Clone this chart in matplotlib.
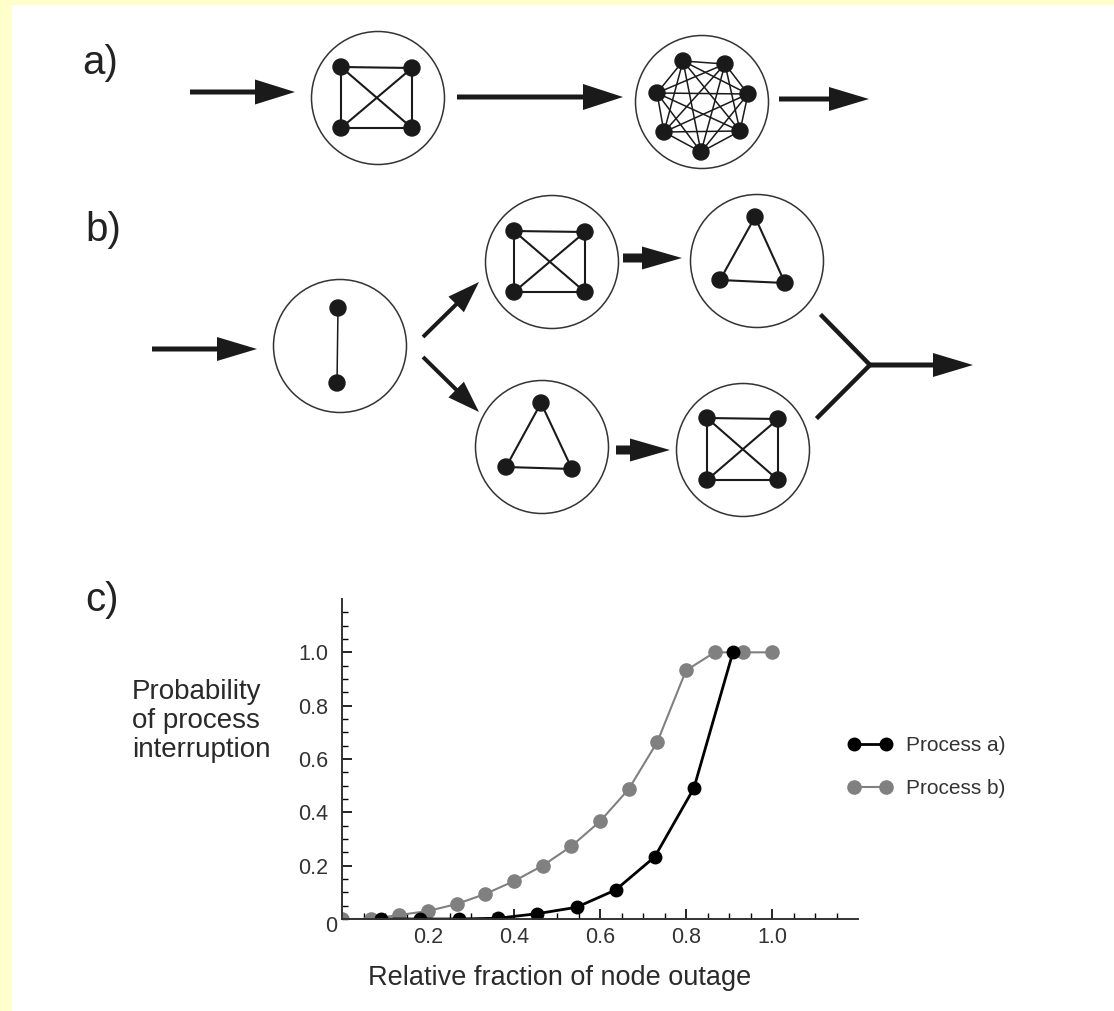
import matplotlib.pyplot as plt
import numpy as np
from matplotlib.patches import Circle, Rectangle, FancyArrow

plt.rcParams['font.family'] = ['Liberation Sans', 'DejaVu Sans']

# data for panel c)
frac_a = [1/11, 2/11, 3/11, 4/11, 5/11, 6/11, 7/11, 8/11, 9/11, 10/11]
prob_a = [0.0, 0.0, 0.0, 0.003, 0.02, 0.044, 0.109, 0.233, 0.49, 1.0]
frac_b = [0, 1/15, 2/15, 3/15, 4/15, 5/15, 6/15, 7/15, 8/15, 9/15, 10/15,
          11/15, 12/15, 13/15, 14/15, 1.0]
prob_b = [0.0, 0.0, 0.015, 0.03, 0.056, 0.094, 0.142, 0.20, 0.273, 0.366,
          0.487, 0.664, 0.932, 1.0, 1.0, 1.0]
ticks = [0.2, 0.4, 0.6, 0.8, 1.0]
tick_labels = ['0.2', '0.4', '0.6', '0.8', '1.0']
legend_labels = ['Process a)', 'Process b)']

W, H = 1114, 1011
fig = plt.figure(figsize=(W/100, H/100), dpi=100, facecolor='#FFFFCC')

# diagram layer, in pixel coordinates
d = fig.add_axes([0, 0, 1, 1], zorder=0)
d.set_xlim(0, W)
d.set_ylim(H, 0)
d.axis('off')
d.add_patch(Rectangle((12, 5), W, H, facecolor='white', edgecolor='none'))

R = 66.5
def graph(cx, cy, nodes, edge_lw=1.5):
    d.add_patch(Circle((cx, cy), R, facecolor='none', edgecolor='#333333', lw=1.1))
    for i in range(len(nodes)):
        for j in range(i + 1, len(nodes)):
            d.plot([nodes[i][0], nodes[j][0]], [nodes[i][1], nodes[j][1]],
                   color='#1a1a1a', lw=edge_lw, solid_capstyle='round')
    for (x, y) in nodes:
        d.add_patch(Circle((x, y), 8, color='#1a1a1a', zorder=3))

def arrow(x0, y0, x1, y1, w=5, hw=25, hl=40):
    d.add_patch(FancyArrow(x0, y0, x1 - x0, y1 - y0, width=w, head_width=hw,
                           head_length=hl, length_includes_head=True,
                           color='#1a1a1a', lw=0))

# a)
d.text(82, 63, 'a)', fontsize=29, va='center', ha='left', color='#222222')
arrow(190, 92, 295, 92)
graph(378, 98, [(341, 67), (412, 68), (341, 128), (412, 128)])
arrow(457, 97, 623, 97, hw=26)
graph(702, 102, [(683, 61), (725, 64), (748, 94), (740, 131), (701, 152),
                 (664, 132), (657, 93)], edge_lw=1.1)
arrow(779, 99, 869, 99, hw=24)

# b)
d.text(85, 230, 'b)', fontsize=29, va='center', ha='left', color='#222222')
arrow(152, 349, 257, 349, hw=24)
graph(340, 346, [(338, 308), (337, 383)], edge_lw=1.1)
arrow(423, 337, 479, 282, w=4, hw=22, hl=32)
arrow(423, 357, 479, 412, w=4, hw=22, hl=32)
graph(552, 262, [(514, 231), (585, 232), (514, 292), (585, 292)])
arrow(623, 258, 682, 258, w=9, hw=23, hl=40)
graph(757, 261, [(755, 217), (720, 280), (785, 283)])
graph(542, 447, [(541, 403), (506, 467), (572, 469)])
arrow(616, 450, 670, 450, w=9, hw=23, hl=40)
graph(743, 450, [(707, 418), (778, 419), (707, 480), (778, 480)])
d.plot([822, 870, 818], [316, 365, 417], color='#1a1a1a', lw=3.2)
arrow(868, 365, 973, 365, w=5, hw=24, hl=40)

# c)
d.text(85, 600, 'c)', fontsize=29, va='center', ha='left', color='#222222')
d.text(132, 721, 'Probability\nof process\ninterruption', fontsize=20,
       va='center', ha='left', linespacing=1.15, color='#2a2a2a')
d.text(560, 978, 'Relative fraction of node outage', fontsize=19.5,
       va='center', ha='center', color='#2a2a2a')

# plot
x0, x1, y0, y1 = 342, 858, 599, 919
ax = fig.add_axes([x0 / W, 1 - y1 / H, (x1 - x0) / W, (y1 - y0) / H], zorder=1)
ax.patch.set_alpha(0)
ax.plot(frac_b, prob_b, '-o', color='#808080', lw=1.5, ms=9.5, label=legend_labels[1])
ax.plot(frac_a, prob_a, '-o', color='black', lw=2, ms=9, label=legend_labels[0])
ax.set_xlim(0, 1.2)
ax.set_ylim(0, 1.2)
for s in ['top', 'right']:
    ax.spines[s].set_visible(False)
for s in ['left', 'bottom']:
    ax.spines[s].set_color('#333333')
    ax.spines[s].set_linewidth(1.4)
ax.set_xticks(ticks)
ax.set_xticklabels(tick_labels)
ax.set_yticks(ticks)
ax.set_yticklabels(tick_labels)
ax.set_xticks(np.arange(0, 1.2, 0.05), minor=True)
ax.set_yticks(np.arange(0, 1.2, 0.05), minor=True)
ax.tick_params(which='major', direction='in', length=7, width=1.2,
               labelsize=15.5, labelcolor='#333333', pad=6)
ax.tick_params(which='minor', direction='in', length=4, width=1.0)
ax.tick_params(axis='y', pad=10)
ax.text(-0.01, -0.03, '0', fontsize=15.5, color='#333333', ha='right', va='center',
        clip_on=False)

h, l = ax.get_legend_handles_labels()
fig.legend(h[::-1], l[::-1], loc='center left', bbox_to_anchor=(848 / W, 1 - 767 / H),
           frameon=False, fontsize=15, handlelength=2.1, handletextpad=0.7,
           labelspacing=1.15, borderpad=0, borderaxespad=0, numpoints=2,
           labelcolor='#333333')

plt.savefig('out.png', dpi=100, facecolor=fig.get_facecolor())
